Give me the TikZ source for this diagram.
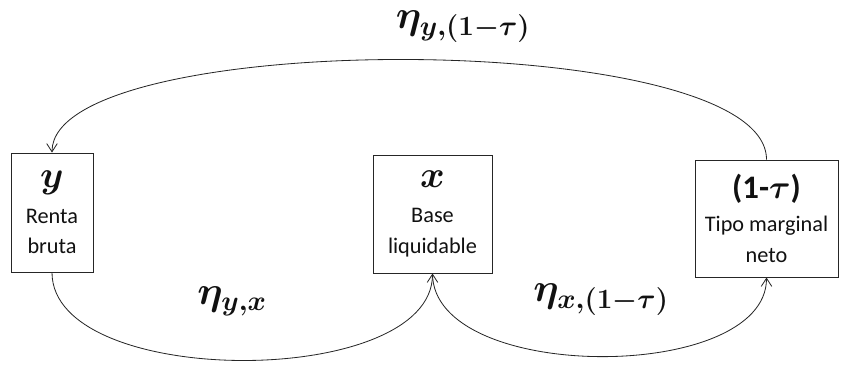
\documentclass[tikz,border=0pt]{standalone}
\usepackage{fix-cm}
\usepackage{amsmath}
\usepackage{fontspec}
\setmainfont{Carlito}
\usetikzlibrary{arrows.meta}

\begin{document}
\begin{tikzpicture}[
    x=0.03cm, y=-0.03cm,
    every node/.style={font=\fontsize{19}{26}\selectfont},
]

% ---------------------------------------------------------------- colours
\definecolor{linecolor}{HTML}{262626}   % boxes and arcs
\definecolor{textcolor}{HTML}{111111}

% ---------------------------------------------------------------- styles
\tikzset{
    varbox/.style={draw=linecolor, line width=0.8pt, align=center,
                   inner sep=0pt, text=textcolor},
    linkarc/.style={linecolor, line width=0.7pt,
                    -{Straight Barb[length=7pt, width=9pt]}},
    elast/.style={font=\fontsize{34}{40}\selectfont\boldmath, text=textcolor,
                  inner sep=0pt},
}
\newcommand{\headsize}{\fontsize{32}{34}\selectfont}

% the page is 841 x 364, coordinates are in pixels of the reference
\useasboundingbox (0, 0) rectangle (841, 364);

% ----------------------------------------------------------------------
% the three variables
% ----------------------------------------------------------------------
\node[varbox, minimum width=2.46cm, minimum height=3.57cm] (y) at (52, 212.5)
    {{\headsize\boldmath$y$}\\[4pt]Renta\\bruta};
\node[varbox, minimum width=3.57cm, minimum height=3.54cm] (x) at (432.5, 214)
    {{\headsize\boldmath$x$}\\[4pt]Base\\liquidable};
\node[varbox, minimum width=4.29cm, minimum height=3.51cm] (tau) at (766.5, 218.5)
    {{\fontsize{28}{30}\selectfont\bfseries(1-{\boldmath$\tau$})}\\[2pt]Tipo marginal\\neto};

% ----------------------------------------------------------------------
% the elasticities that link them
% ----------------------------------------------------------------------
\draw[linkarc] (tau.north) .. controls +(0, -132) and +(0, -125) .. (y.north);
\draw[linkarc] (y.south) .. controls +(0, 117) and +(0, 116) .. (x.south);
\draw[linkarc] (x.south) .. controls +(0, 110) and +(0, 106) .. (tau.south);

\node[elast] (etaytau) at (463, 27) {$\eta_{y,(1-\tau)}$};
\node[elast] (etayx) at (232, 301) {$\eta_{y,x}$};
\node[elast] (etaxtau) at (601, 300) {$\eta_{x,(1-\tau)}$};

\end{tikzpicture}
\end{document}
